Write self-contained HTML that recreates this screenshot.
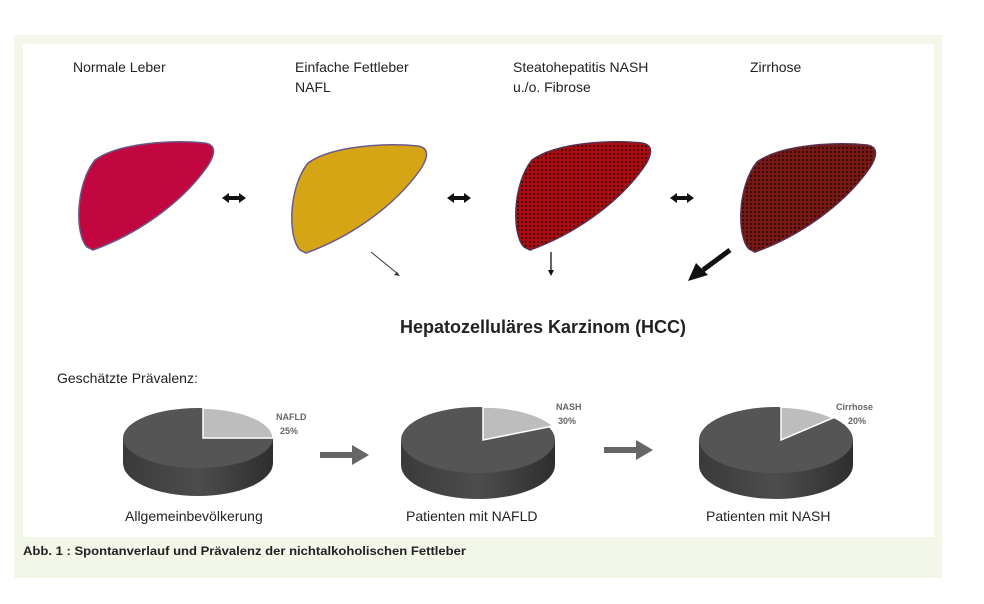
<!DOCTYPE html>
<html><head><meta charset="utf-8"><style>
html,body{margin:0;padding:0;background:#fff;}
body{width:984px;height:599px;overflow:hidden;font-family:"Liberation Sans",sans-serif;}
</style></head><body>
<svg width="984" height="599" viewBox="0 0 984 599" xmlns="http://www.w3.org/2000/svg">
<defs>
<pattern id="mesh" width="4" height="4" patternUnits="userSpaceOnUse">
<rect width="4" height="4" fill="#b00c0c"/><circle cx="2" cy="2" r="1.1" fill="#3a0505"/></pattern>
<pattern id="mesh2" width="4" height="4" patternUnits="userSpaceOnUse">
<rect width="4" height="4" fill="#7a1a14"/><circle cx="2" cy="2" r="1.2" fill="#3a0a08"/></pattern>
<path id="liver" d="M 12 107 C 0 95, 0 45, 20 20 C 45 2, 100 0, 130 3 C 142 5, 140 15, 132 27 C 105 65, 60 95, 18 110 Z"/>
<linearGradient id="side" x1="0" x2="1"><stop offset="0" stop-color="#3a3a3a"/><stop offset="0.5" stop-color="#4d4d4d"/><stop offset="1" stop-color="#2e2e2e"/></linearGradient>
</defs>
<rect x="14" y="35" width="928" height="543" fill="#f3f7ea"/>
<rect x="23" y="44" width="911" height="493" fill="#fff"/>
<g font-size="14" fill="#222">
<text x="73" y="72">Normale Leber</text>
<text x="295" y="72">Einfache Fettleber</text><text x="295" y="92">NAFL</text>
<text x="513" y="72">Steatohepatitis NASH</text><text x="513" y="92">u./o. Fibrose</text>
<text x="750" y="72">Zirrhose</text>
</g>
<use href="#liver" x="75" y="140" fill="#c2063f" stroke="#6a5a8a" stroke-width="1.5"/>
<use href="#liver" x="288" y="143" fill="#d6a516" stroke="#6a5a8a" stroke-width="1.5"/>
<use href="#liver" x="512" y="140" fill="url(#mesh)" stroke="#5a3050" stroke-width="1.5"/>
<use href="#liver" x="737" y="142" fill="url(#mesh2)" stroke="#5a3050" stroke-width="1.5"/>
<g fill="#111">
<path d="M222 198 l7 -5 v3 h10 v-3 l7 5 l-7 5 v-3 h-10 v3 z"/>
<path d="M447 198 l7 -5 v3 h10 v-3 l7 5 l-7 5 v-3 h-10 v3 z"/>
<path d="M670 198 l7 -5 v3 h10 v-3 l7 5 l-7 5 v-3 h-10 v3 z"/>
</g>
<line x1="371" y1="252" x2="398" y2="274" stroke="#333" stroke-width="1"/>
<path d="M400 276 l-6 -1 l3 -3 z" fill="#333"/>
<line x1="551" y1="252" x2="551" y2="272" stroke="#111" stroke-width="1.3"/>
<path d="M548 270 h6 l-3 6 z" fill="#111"/>
<line x1="730" y1="250" x2="703" y2="270" stroke="#111" stroke-width="5"/>
<path d="M688 281 l8 -18 l12 12 z" fill="#111"/>
<text x="400" y="333" font-size="18" font-weight="bold" fill="#222">Hepatozelluläres Karzinom (HCC)</text>
<text x="57" y="383" font-size="14" fill="#222">Geschätzte Prävalenz:</text>
<g>
<path d="M123 438 v25 a75 33 0 0 0 150 0 v-25 z" fill="url(#side)"/>
<ellipse cx="198" cy="438" rx="75" ry="30" fill="#555"/>
<path d="M203 408 v30 h70 a75 30 0 0 0 -70 -30 z" fill="#bdbdbd" stroke="#fff" stroke-width="1.5"/>
<path d="M401 440 v25 a77 34 0 0 0 154 0 v-25 z" fill="url(#side)"/>
<ellipse cx="478" cy="440" rx="77" ry="33" fill="#555"/>
<path d="M483 407 v33 l70 -14 a77 33 0 0 0 -70 -19 z" fill="#bdbdbd" stroke="#fff" stroke-width="1.5"/>
<path d="M699 440 v25 a77 34 0 0 0 154 0 v-25 z" fill="url(#side)"/>
<ellipse cx="776" cy="440" rx="77" ry="33" fill="#555"/>
<path d="M781 407 v33 l52 -22 a77 33 0 0 0 -52 -11 z" fill="#bdbdbd" stroke="#fff" stroke-width="1.5"/>
</g>
<g font-size="9" fill="#666" font-weight="bold">
<text x="276" y="420">NAFLD</text><text x="280" y="434">25%</text>
<text x="556" y="410">NASH</text><text x="558" y="424">30%</text>
<text x="836" y="410">Cirrhose</text><text x="848" y="424">20%</text>
</g>
<g fill="#666">
<path d="M320 452 h32 v-7 l17 10 l-17 10 v-7 h-32 z"/>
<path d="M604 447 h32 v-7 l17 10 l-17 10 v-7 h-32 z"/>
</g>
<g font-size="14" fill="#222">
<text x="125" y="521">Allgemeinbevölkerung</text>
<text x="406" y="521">Patienten mit NAFLD</text>
<text x="706" y="521">Patienten mit NASH</text>
</g>
<text x="23" y="555" font-size="12" font-weight="bold" fill="#222" textLength="443" lengthAdjust="spacingAndGlyphs">Abb. 1 : Spontanverlauf und Prävalenz der nichtalkoholischen Fettleber</text>
</svg>
</body></html>
